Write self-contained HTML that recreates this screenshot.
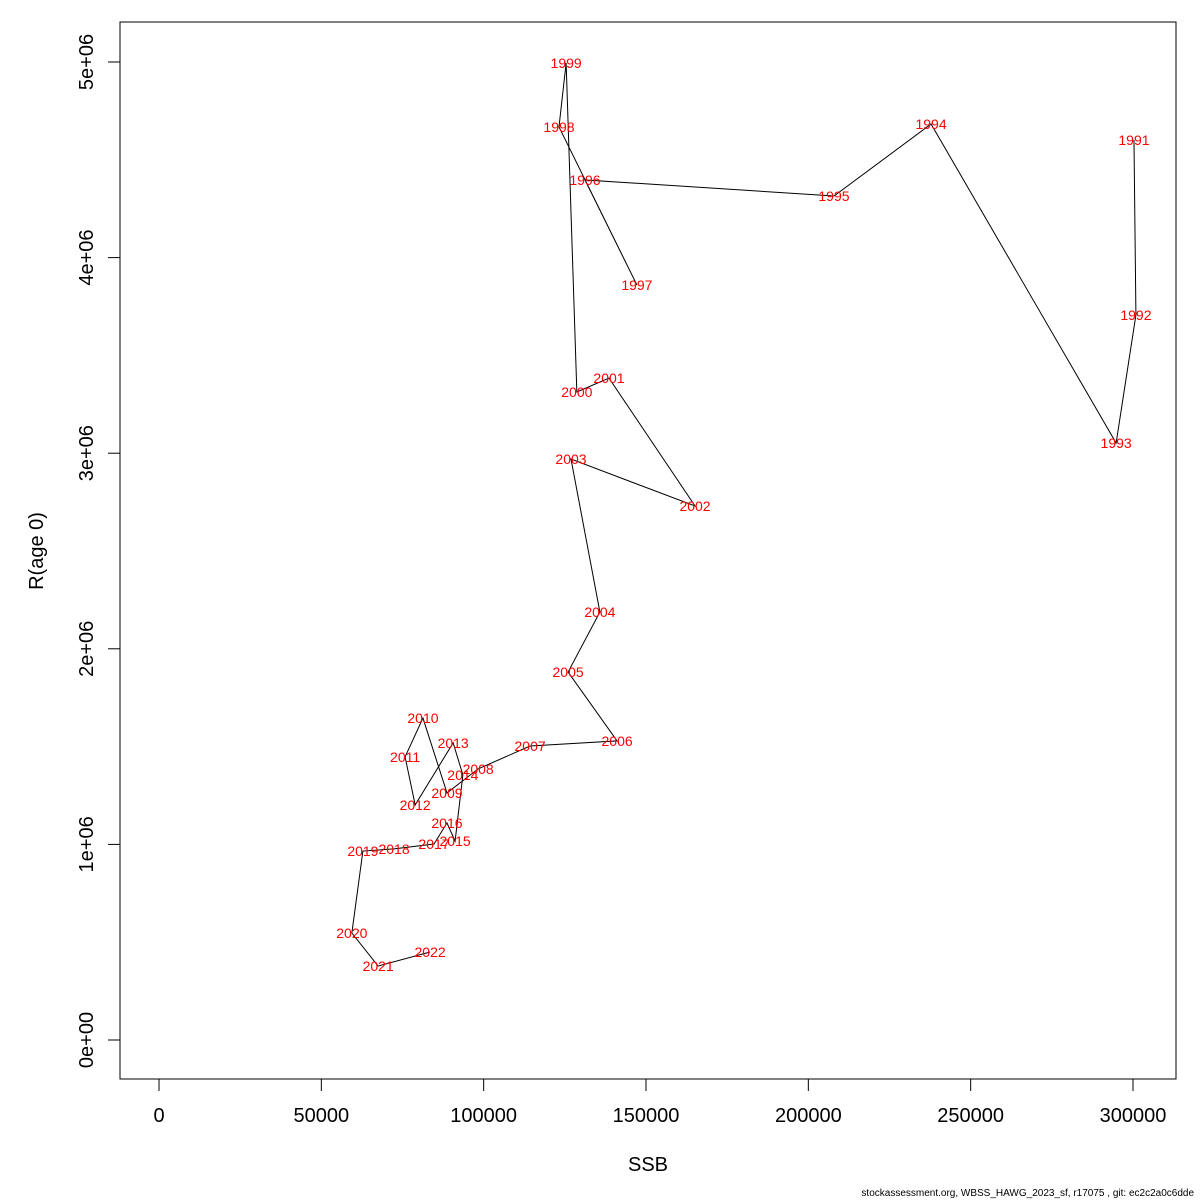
<!DOCTYPE html>
<html><head><meta charset="utf-8"><style>
body{margin:0;background:#fff}
svg{display:block;font-family:"Liberation Sans",sans-serif}
</style></head><body>
<svg id="chart" width="1200" height="1200" viewBox="0 0 1200 1200">
<rect x="0" y="0" width="1200" height="1200" fill="#fff"/>
<rect x="120" y="22" width="1056" height="1057" fill="none" stroke="#000" stroke-width="1"/>
<g id="xaxis"></g>
<g id="yaxis"></g>
<g id="series"></g>
<text x="648" y="1171" font-size="20" text-anchor="middle">SSB</text>
<text x="0" y="0" font-size="20" text-anchor="middle" transform="translate(43,551) rotate(-90)">R(age 0)</text>
<text x="1194" y="1196" font-size="10" text-anchor="end">stockassessment.org, WBSS_HAWG_2023_sf, r17075 , git: ec2c2a0c6dde</text>
</svg>
<script>
const years=[1991,1992,1993,1994,1995,1996,1997,1998,1999,2000,2001,2002,2003,2004,2005,2006,2007,2008,2009,2010,2011,2012,2013,2014,2015,2016,2017,2018,2019,2020,2021,2022];
const ssb=[300300,300900,294800,237800,207900,131200,147200,123200,125400,128700,138600,165100,126900,135800,126000,141100,114300,98300,88700,81300,75800,78900,90600,93600,91200,88700,84700,72400,62800,59400,67500,83500];
const rec=[4.601e6,3.707e6,3.052e6,4.683e6,4.315e6,4.397e6,3.860e6,4.668e6,4.995e6,3.313e6,3.384e6,2.730e6,2.970e6,2.188e6,1.881e6,1.529e6,1.503e6,1.386e6,1.263e6,1.646e6,1.447e6,1.202e6,1.519e6,1.355e6,1.017e6,1.110e6,1.002e6,0.977e6,0.966e6,0.547e6,0.378e6,0.450e6];
const xTicks=[0,50000,100000,150000,200000,250000,300000];
const xTickLabels=["0","50000","100000","150000","200000","250000","300000"];
const yTicks=[0,1e6,2e6,3e6,4e6,5e6];
const yTickLabels=["0e+00","1e+06","2e+06","3e+06","4e+06","5e+06"];
const NS="http://www.w3.org/2000/svg";
const sx=v=>159+v*974/300000;
const sy=v=>1040-v*978/5e6;
function mk(tag,attrs,parent){const e=document.createElementNS(NS,tag);for(const k in attrs)e.setAttribute(k,attrs[k]);parent.appendChild(e);return e;}
const xa=document.getElementById('xaxis'),ya=document.getElementById('yaxis'),sg=document.getElementById('series');
mk('line',{x1:sx(xTicks[0]),x2:sx(xTicks[xTicks.length-1]),y1:1079,y2:1079,stroke:'#000'},xa);
xTicks.forEach((t,i)=>{
  const l=mk('line',{x1:sx(t),x2:sx(t),y1:1079,y2:1091,stroke:'#000'},xa);
  
  
  const tx=mk('text',{x:sx(t),y:1122,'font-size':20,'text-anchor':'middle'},xa);
  tx.textContent=xTickLabels[i];
  
  
});
mk('line',{x1:120,x2:120,y1:sy(yTicks[0]),y2:sy(yTicks[yTicks.length-1]),stroke:'#000'},ya);
yTicks.forEach((t,i)=>{
  const l=mk('line',{x1:108,x2:120,y1:sy(t),y2:sy(t),stroke:'#000'},ya);
  
  
  const tx=mk('text',{x:0,y:0,'font-size':20,'text-anchor':'middle',transform:`translate(93,${sy(t)}) rotate(-90)`},ya);
  tx.textContent=yTickLabels[i];
  
  
});
const pts=ssb.map((v,i)=>sx(v)+','+sy(rec[i])).join(' ');
const pl=mk('polyline',{points:pts,fill:'none',stroke:'#000','stroke-width':1},sg);


years.forEach((y,i)=>{
  const tx=mk('text',{x:sx(ssb[i]),y:sy(rec[i])+5,'font-size':14,fill:'#ff0000','text-anchor':'middle'},sg);
  tx.textContent=String(y);
  
  
});
</script>
</body></html>
